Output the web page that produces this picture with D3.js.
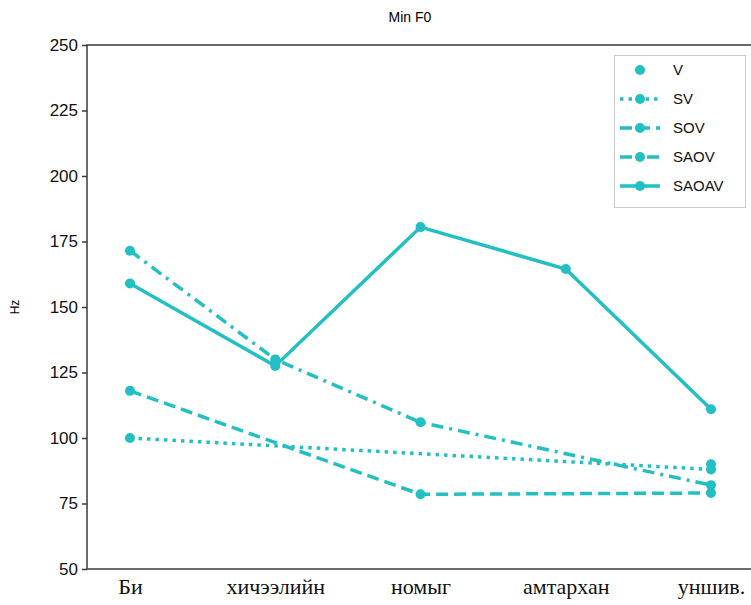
<!DOCTYPE html>
<meta charset="utf-8">
<html>
<head>
  <script src="https://d3js.org/d3.v7.min.js"></script>
  <style>
    body { margin: 0; background: #fff; }
  </style>
</head>
<body>
<script>
  var words = ["Би", "хичээлийн", "номыг", "амтархан", "уншив."],
      seriesNames = ["V", "SV", "SOV", "SAOV", "SAOAV"],
      V = [null, null, null, null, 90],
      SV = [100, null, null, null, 88],
      SOV = [118, null, 78.5, null, 79],
      SAOV = [171.5, 130, 106, null, 82],
      SAOAV = [159, 127.5, 180.5, 164.5, 111],
      yTicks = [50, 75, 100, 125, 150, 175, 200, 225, 250];

  var dashes = ["none", "3.5,5", "12,6", "12,6,3,6", null];
  var allSeries = [V, SV, SOV, SAOV, SAOAV];
  var color = "#22bfc3";
  var sans = "Arial, 'Liberation Sans', sans-serif";

  var width = 751, height = 605,
      plotLeft = 87, plotRight = 752, plotTop = 45, plotBottom = 569;

  var svg = d3.select("body").append("svg")
      .attr("width", width)
      .attr("height", height);

  var x = d3.scalePoint().domain(words).range([130, 711]);
  var y = d3.scaleLinear().domain([50, 250]).range([plotBottom, plotTop]);

  // frame
  svg.append("rect")
      .attr("x", plotLeft).attr("y", plotTop)
      .attr("width", plotRight - plotLeft).attr("height", plotBottom - plotTop)
      .attr("fill", "none").attr("stroke", "#3a3a3a").attr("stroke-width", 1.5);

  var yAxis = svg.append("g")
      .attr("transform", "translate(" + plotLeft + ",0)")
      .call(d3.axisLeft(y).tickValues(yTicks).tickSize(5).tickPadding(4));
  yAxis.select(".domain").remove();
  yAxis.selectAll(".tick line").attr("stroke", "#3a3a3a").attr("stroke-width", 1.5);
  yAxis.selectAll(".tick text").attr("font-family", sans).attr("font-size", 17).attr("fill", "#111");

  var xAxis = svg.append("g")
      .attr("transform", "translate(0," + plotBottom + ")")
      .call(d3.axisBottom(x).tickSize(0).tickPadding(9));
  xAxis.select(".domain").remove();
  xAxis.selectAll(".tick text")
      .attr("font-family", "'Liberation Serif', 'DejaVu Serif', serif")
      .attr("font-size", 22).attr("fill", "#111");

  svg.append("text")
      .attr("x", 410).attr("y", 22)
      .attr("text-anchor", "middle")
      .attr("font-family", sans)
      .attr("font-size", 14)
      .text("Min F0");

  svg.append("text")
      .attr("transform", "translate(19," + y(150) + ") rotate(-90)")
      .attr("text-anchor", "middle")
      .attr("font-family", sans)
      .attr("font-size", 12)
      .text("Hz");

  var line = d3.line()
      .x(function(d) { return x(d.word); })
      .y(function(d) { return y(d.value); });

  allSeries.forEach(function(values, i) {
    var pts = values.map(function(v, j) { return {word: words[j], value: v}; })
                    .filter(function(d) { return d.value !== null; });
    if (pts.length > 1) {
      svg.append("path")
          .datum(pts)
          .attr("d", line)
          .attr("fill", "none")
          .attr("stroke", color)
          .attr("stroke-width", 3.5)
          .attr("stroke-dasharray", dashes[i]);
    }
    svg.selectAll(".m" + i)
        .data(pts)
        .enter().append("circle")
        .attr("cx", function(d) { return x(d.word); })
        .attr("cy", function(d) { return y(d.value); })
        .attr("r", 5)
        .attr("fill", color);
  });

  // legend
  var legend = svg.append("g");
  legend.append("rect")
      .attr("x", 614.5).attr("y", 55.5)
      .attr("width", 131).attr("height", 152)
      .attr("fill", "#fff").attr("stroke", "#ccc").attr("stroke-width", 1);

  seriesNames.forEach(function(name, i) {
    var ly = 70 + i * 29;
    if (i > 0) {
      legend.append("line")
          .attr("x1", 620).attr("x2", 660)
          .attr("y1", ly).attr("y2", ly)
          .attr("stroke", color).attr("stroke-width", 3.5)
          .attr("stroke-dasharray", dashes[i]);
    }
    legend.append("circle")
        .attr("cx", 640).attr("cy", ly).attr("r", 5).attr("fill", color);
    legend.append("text")
        .attr("x", 673).attr("y", ly + 5)
        .attr("font-family", sans)
        .attr("font-size", 15)
        .attr("fill", "#111")
        .text(name);
  });
</script>
</body>
</html>
